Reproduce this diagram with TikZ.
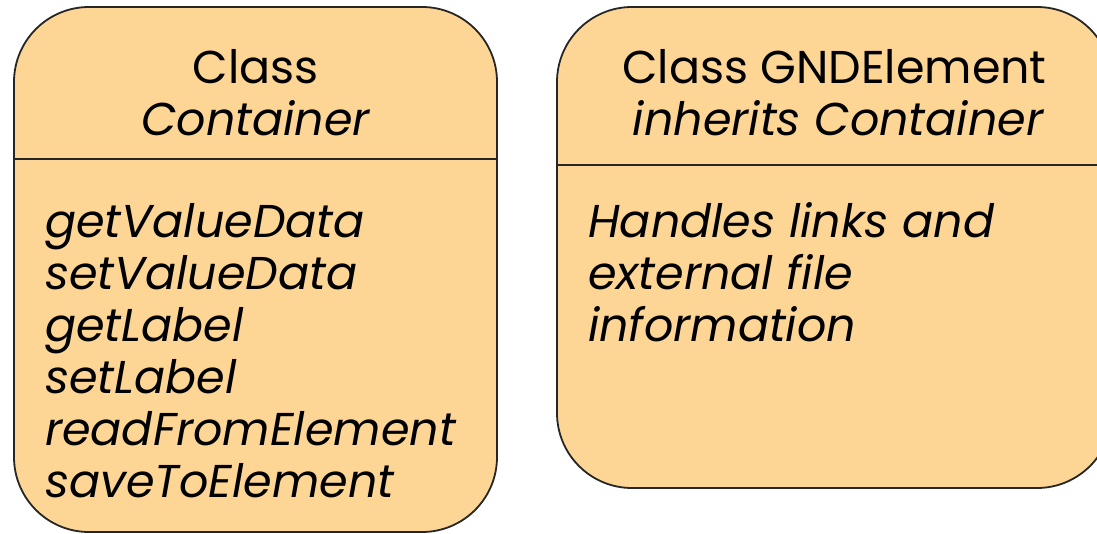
\documentclass[tikz,border=0pt]{standalone}
\usepackage{fontspec}
\setmainfont{Poppins}
\begin{document}
\begin{tikzpicture}[x=1pt,y=-1pt,
  classbox/.style={draw=black!85,line width=1.8pt,fill=boxfill,rounded corners=75pt},
  divider/.style={draw=black!85,line width=1.6pt},
  txt/.style={inner sep=0pt,font=\fontsize{46}{52}\selectfont}]
\definecolor{boxfill}{HTML}{FDD696}
\useasboundingbox (0,0) rectangle (1097,533);
\clip (0,0) rectangle (1097,533);
% left class box
\path[classbox] (14,7) rectangle (497,532);
\draw[divider] (14,159) -- (497,159);
\node[txt,anchor=base] (lt1) at (255.5,83) {Class};
\node[txt,anchor=base] (lt2) at (255.5,135) {\itshape Container};
\node[txt,anchor=base west] (m1) at (45,237) {\itshape getValueData};
\node[txt,anchor=base west] (m2) at (45,289) {\itshape setValueData};
\node[txt,anchor=base west] (m3) at (45,341) {\itshape getLabel};
\node[txt,anchor=base west] (m4) at (45,393) {\itshape setLabel};
\node[txt,anchor=base west] (m5) at (45,445) {\itshape readFromElement};
\node[txt,anchor=base west] (m6) at (45,497) {\itshape saveToElement};
% right class box
\path[classbox] (557,7) rectangle (1112,488);
\draw[divider] (557,165) -- (1112,165);
\node[txt,anchor=base] (rt1) at (834.5,83) {Class GNDElement};
\node[txt,anchor=base] (rt2) at (838,135) {\itshape inherits Container};
\node[txt,anchor=base west] (d1) at (588,237) {\itshape Handles links and};
\node[txt,anchor=base west] (d2) at (588,289) {\itshape external file};
\node[txt,anchor=base west] (d3) at (588,341) {\itshape information};
\end{tikzpicture}
\end{document}
